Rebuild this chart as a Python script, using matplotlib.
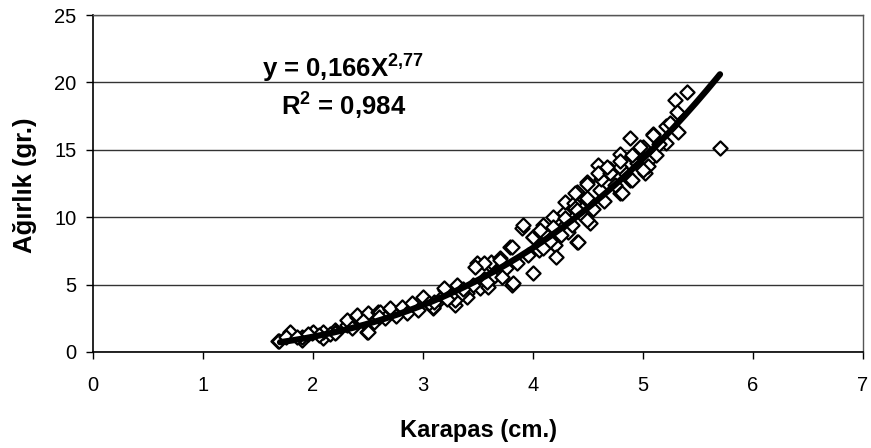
import numpy as np
import matplotlib.pyplot as plt

plt.rcParams['font.family'] = ['Liberation Sans', 'DejaVu Sans']
plt.rcParams['mathtext.fontset'] = 'custom'
plt.rcParams['mathtext.rm'] = 'Liberation Sans'
plt.rcParams['mathtext.bf'] = 'Liberation Sans:bold'

# carapace length (cm) and weight (g)
karapas = [
    1.68, 1.69, 1.79, 1.79, 1.90, 1.90, 1.99, 2.00, 2.09, 2.09, 2.20, 2.21,
    2.31, 2.31, 2.40, 2.40, 2.49, 2.50, 2.50, 2.59, 2.61, 2.70, 2.70, 2.81,
    2.90, 3.00, 3.09, 3.09, 3.20, 3.29, 3.29, 3.31, 3.40, 3.40, 3.49, 3.52,
    3.59, 3.61, 3.62, 3.70, 3.70, 3.79, 3.81, 3.81, 3.82, 3.90, 3.91, 4.00,
    4.00, 4.00, 4.06, 4.09, 4.09, 4.18, 4.18, 4.20, 4.28, 4.29, 4.29, 4.32,
    4.37, 4.38, 4.40, 4.40, 4.41, 4.49, 4.49, 4.49, 4.52, 4.59, 4.61, 4.70,
    4.79, 4.79, 4.79, 4.88, 4.88, 4.91, 5.00, 5.02, 5.09, 5.12, 5.21, 5.21,
    5.29, 5.31, 5.32, 5.40, 5.70,
    1.75, 2.05, 2.15, 2.35, 2.55, 2.65, 2.85, 2.95, 3.05, 3.15, 3.25, 3.35,
    3.45, 3.55, 3.65, 3.75, 3.85, 3.95, 4.05, 4.15, 4.25, 4.35, 4.45, 4.55,
    4.65, 4.75, 4.85, 4.95, 5.05, 5.15, 5.25, 4.62, 4.95, 5.05,
    3.55, 3.47, 4.09, 4.21, 3.64, 3.19, 4.06, 4.18, 4.29, 4.40, 4.49, 4.38,
    4.49, 4.59, 4.70, 4.81, 4.90, 5.00, 4.90, 4.97, 5.09, 4.67, 4.79, 3.10,
    3.22, 3.36, 3.58, 3.72, 2.20, 2.45, 2.75, 1.85, 1.95, 2.60,
]
agirlik = [
    0.84, 0.84, 1.43, 1.50, 0.89, 1.14, 1.43, 1.50, 1.04, 1.50, 1.63, 1.50,
    2.00, 2.37, 2.62, 2.74, 1.50, 2.86, 1.50, 3.00, 2.99, 3.19, 3.26, 3.36,
    3.60, 4.10, 3.24, 3.36, 4.60, 3.49, 3.86, 4.97, 4.35, 4.10, 6.58, 4.72,
    4.84, 6.45, 6.70, 6.95, 6.82, 7.81, 7.80, 4.97, 5.10, 9.17, 9.42, 5.85,
    8.55, 8.55, 8.93, 8.93, 9.42, 10.04, 8.06, 7.94, 10.30, 11.15, 9.42, 8.93,
    11.03, 10.66, 11.90, 8.18, 8.18, 11.28, 11.40, 12.60, 9.55, 13.90, 12.00, 13.60,
    14.70, 13.76, 11.76, 15.85, 12.76, 14.50, 15.20, 13.25, 16.20, 14.60, 16.80, 15.50,
    18.70, 17.80, 16.30, 19.30, 15.15,
    1.10, 1.25, 1.35, 1.80, 2.20, 2.50, 2.90, 3.10, 3.60, 3.90, 4.20, 4.40,
    5.00, 5.40, 5.70, 6.20, 6.60, 7.20, 7.60, 8.20, 8.70, 9.40, 10.20, 10.60,
    11.20, 12.40, 13.20, 14.00, 14.20, 15.40, 17.00, 12.80, 14.80, 13.80,
    6.58, 6.33, 7.69, 7.07, 5.59, 4.72, 9.05, 9.29, 9.92, 10.53, 9.79, 11.76,
    12.50, 13.25, 13.25, 11.76, 12.76, 13.50, 14.60, 15.20, 16.10, 13.76, 14.20, 3.70,
    3.90, 4.70, 5.20, 5.60, 1.40, 2.30, 2.70, 1.10, 1.30, 2.60,
]

# power trendline y = a * x^b
a_coef = 0.166
b_coef = 2.77
trend_x = np.linspace(1.7, 5.7, 200)
trend_y = a_coef * trend_x ** b_coef

fig = plt.figure(figsize=(8.71, 4.48), dpi=100)
ax = fig.add_axes([0.1068, 0.2143, 0.8840, 0.7522])

ax.scatter(karapas, agirlik, marker='D', s=52, facecolor='white',
           edgecolor='black', linewidth=1.6, zorder=3)
ax.plot(trend_x, trend_y, color='black', linewidth=4.5,
        solid_capstyle='round', zorder=4)

ax.set_xlim(0, 7)
ax.set_ylim(0, 25)
ax.set_xticks(range(0, 8))
ax.set_yticks(range(0, 26, 5))
ax.yaxis.grid(True, color='#333333', linewidth=1.0)
ax.set_axisbelow(True)
ax.tick_params(direction='out', length=5, width=1, labelsize=14.5)
ax.tick_params(axis='x', pad=12)
ax.tick_params(axis='y', pad=7)

for side in ['top', 'right']:
    ax.spines[side].set_color('#555555')
    ax.spines[side].set_linewidth(1.0)
for side in ['left', 'bottom']:
    ax.spines[side].set_color('black')
    ax.spines[side].set_linewidth(1.2)

# axis titles placed in figure pixels (Excel-style layout)
fig.text(478 / 871, 1 - 437 / 448, 'Karapas (cm.)', fontsize=17,
         fontweight='bold', ha='center', va='baseline')
fig.text(25 / 871, 1 - 185 / 448, 'Ağırlık (gr.)', fontsize=18.5,
         fontweight='bold', rotation=90, ha='center', va='center')

ax.text(1.54, 20.4, 'y = 0,166X$^{\\mathbf{2{,}77}}$', fontsize=18.5,
        fontweight='bold', ha='left', va='baseline')
ax.text(1.71, 17.58, 'R$^{\\mathbf{2}}$ = 0,984', fontsize=18.5,
        fontweight='bold', ha='left', va='baseline')

fig.savefig('out.png', dpi=100)
